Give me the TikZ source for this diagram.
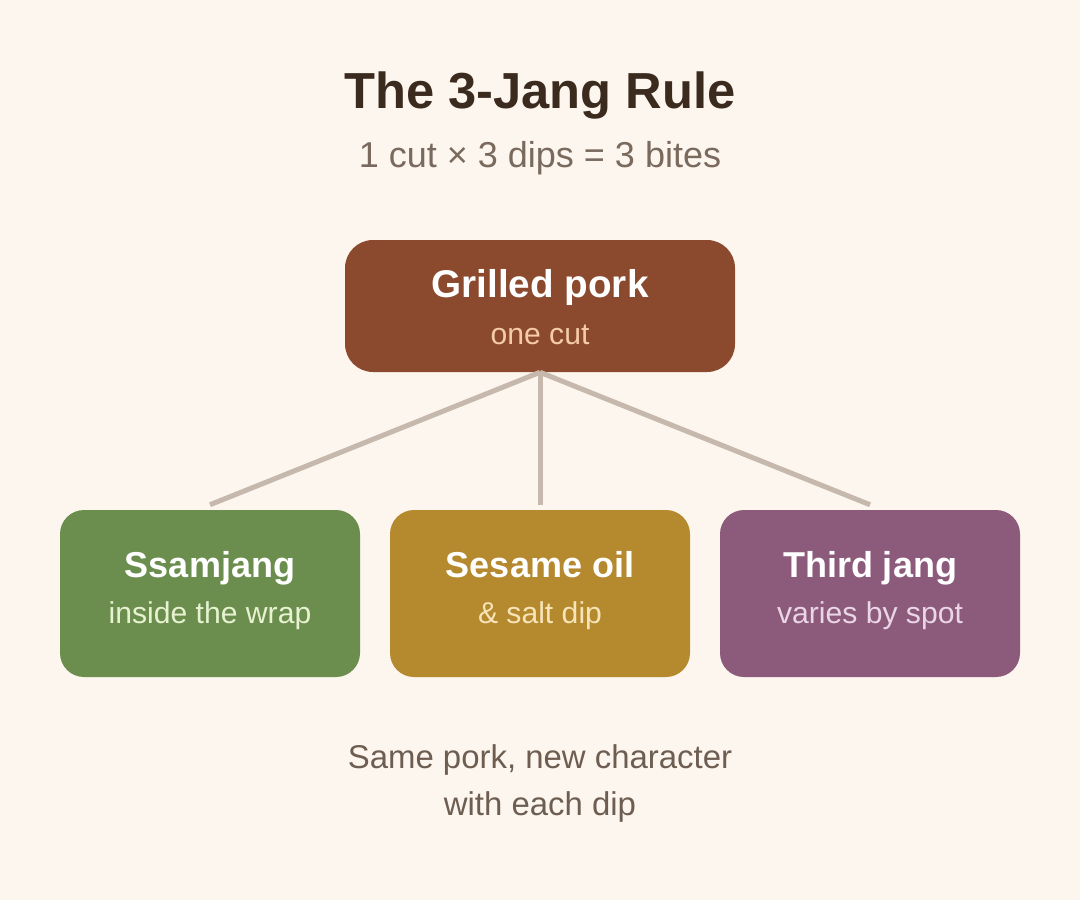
\documentclass[tikz,border=0pt]{standalone}
\usepackage{fontspec}
\setmainfont{Liberation Sans}
\usepackage{xcolor}

\definecolor{bgcream}{HTML}{FDF6EE}
\definecolor{titlebrown}{HTML}{3B2A1E}
\definecolor{subgrey}{HTML}{7A6A5E}
\definecolor{porkbrown}{HTML}{8B4A2E}
\definecolor{porksub}{HTML}{F5CBA8}
\definecolor{ssamgreen}{HTML}{6B8E4E}
\definecolor{ssamsub}{HTML}{E6F2D0}
\definecolor{oilgold}{HTML}{B5892E}
\definecolor{oilsub}{HTML}{F7E4B8}
\definecolor{jangpurple}{HTML}{8C5A7A}
\definecolor{jangsub}{HTML}{EAD6E6}
\definecolor{linkgrey}{HTML}{C6B8AC}
\definecolor{footgrey}{HTML}{6E5E52}

\tikzset{
  sauce/.style={draw=none, rounded corners=18pt, minimum width=225pt, minimum height=125.25pt, inner sep=0pt},
  headtxt/.style={anchor=base, inner sep=0pt, text=white, font=\fontsize{27}{32}\selectfont\bfseries},
  subtxt/.style={anchor=base, inner sep=0pt, font=\fontsize{22.6}{27}\selectfont},
  link/.style={draw=linkgrey, line width=3.75pt}
}

\begin{document}
\begin{tikzpicture}[x=0.75pt,y=0.75pt,yscale=-1,xscale=1]
        %background, sets diagram to 1080 x 900
        \fill[bgcream] (0,0) rectangle (1080,900);
        \useasboundingbox (0,0) rectangle (1080,900);

        % Title
        \node (title) at (540,108) [anchor=base, inner sep=0pt, text=titlebrown, font=\fontsize{38}{44}\selectfont\bfseries] {The 3-Jang Rule};
        \node (subtitle) at (540,167) [anchor=base, inner sep=0pt, text=subgrey, font=\fontsize{27}{32}\selectfont] {1 cut × 3 dips = 3 bites};

        % Boxes
        \node (pork) [sauce, fill=porkbrown, minimum width=292.5pt, minimum height=99pt, rounded corners=21pt] at (540,306) {};
        \node (ssam) [sauce, fill=ssamgreen] at (210,593.5) {};
        \node (oil) [sauce, fill=oilgold] at (540,593.5) {};
        \node (jang) [sauce, fill=jangpurple] at (870,593.5) {};

        % Connectors
        \draw [link] (pork.south) -- ([yshift=-3.75pt]ssam.north);
        \draw [link] (pork.south) -- ([yshift=-3.75pt]oil.north);
        \draw [link] (pork.south) -- ([yshift=-3.75pt]jang.north);

        % Box texts
        \node (porkhead) at (540,297) [headtxt, font=\fontsize{29}{34}\selectfont\bfseries] {Grilled pork};
        \node (porksub) at (540,344) [subtxt, text=porksub] {one cut};
        \node (ssamhead) at (210,577) [headtxt] {Ssamjang};
        \node (ssamsub) at (210,623) [subtxt, text=ssamsub] {inside the wrap};
        \node (oilhead) at (540,577) [headtxt] {Sesame oil};
        \node (oilsub) at (540,623) [subtxt, text=oilsub] {\& salt dip};
        \node (janghead) at (870,577) [headtxt] {Third jang};
        \node (jangsub) at (870,623) [subtxt, text=jangsub] {varies by spot};

        % Footer
        \node (footone) at (540,768) [anchor=base, inner sep=0pt, text=footgrey, font=\fontsize{24.7}{30}\selectfont] {Same pork, new character};
        \node (foottwo) at (540,815) [anchor=base, inner sep=0pt, text=footgrey, font=\fontsize{24.7}{30}\selectfont] {with each dip};

\end{tikzpicture}
\end{document}
